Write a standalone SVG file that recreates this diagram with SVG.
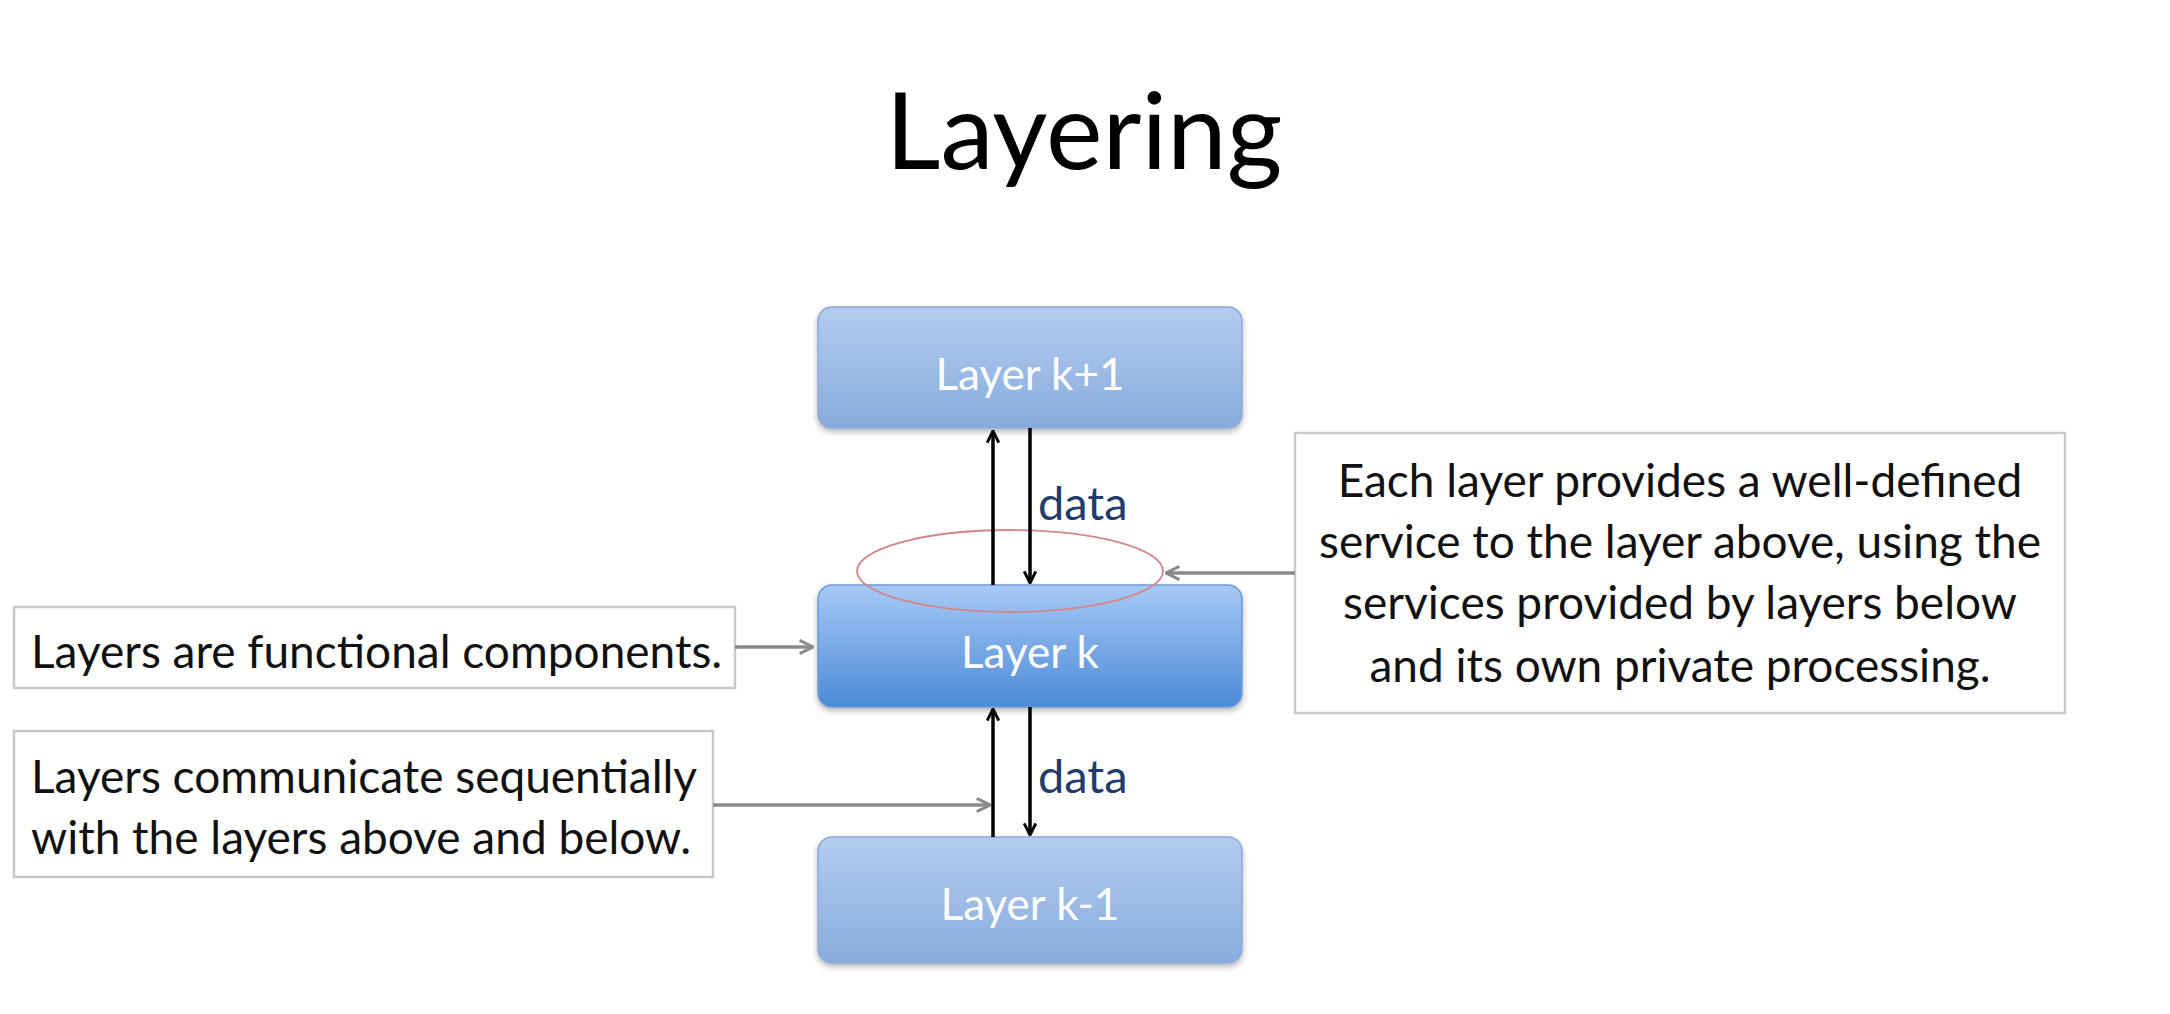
<svg xmlns="http://www.w3.org/2000/svg" width="2170" height="1014" viewBox="0 0 2170 1014">
<style>
  .title{font-family:Lato,"Open Sans","Liberation Sans",sans-serif;font-size:107px;fill:#000;}
  .layer{font-family:Lato,"Open Sans","Liberation Sans",sans-serif;font-size:44px;fill:#fff;text-anchor:middle;}
  .note{font-family:Lato,"Open Sans","Liberation Sans",sans-serif;font-size:46px;fill:#111;}
  .data{font-family:Lato,"Open Sans","Liberation Sans",sans-serif;font-size:47px;fill:#1f3c6c;}
  .box{fill:#fff;stroke:#c9c9c9;stroke-width:2.5;}
  .blk{stroke:#000;stroke-width:3.5;fill:none;}
  .gry{stroke:#8a8a8a;stroke-width:3.5;fill:none;}
</style>
<defs>
  <linearGradient id="gLight" x1="0" y1="0" x2="0" y2="1">
    <stop offset="0" stop-color="#b3ccee"/>
    <stop offset="1" stop-color="#87abde"/>
  </linearGradient>
  <linearGradient id="gDark" x1="0" y1="0" x2="0" y2="1">
    <stop offset="0" stop-color="#a6c9f6"/>
    <stop offset="1" stop-color="#4c8ad6"/>
  </linearGradient>
  <filter id="sh" x="-5%" y="-10%" width="110%" height="130%">
    <feGaussianBlur in="SourceAlpha" stdDeviation="3"/>
    <feOffset dy="3"/>
    <feComponentTransfer><feFuncA type="linear" slope="0.3"/></feComponentTransfer>
    <feMerge><feMergeNode/><feMergeNode in="SourceGraphic"/></feMerge>
  </filter>
  <marker id="ab" viewBox="0 0 12 12" refX="11" refY="6" markerWidth="14" markerHeight="14" markerUnits="userSpaceOnUse" orient="auto">
    <path d="M1,1 L11,6 L1,11" fill="none" stroke="#000" stroke-width="2.5"/>
  </marker>
  <marker id="ag" viewBox="0 0 12 12" refX="11" refY="6" markerWidth="16" markerHeight="16" markerUnits="userSpaceOnUse" orient="auto">
    <path d="M1,1 L11,6 L1,11" fill="none" stroke="#8a8a8a" stroke-width="2.2"/>
  </marker>
</defs>
<rect width="2170" height="1014" fill="#fff"/>
<text id="title" class="title" x="1084" y="169" text-anchor="middle">Layering</text>

<g id="layer-k-plus-1">
  <rect x="818" y="307" width="424" height="121" rx="14" fill="url(#gLight)" stroke="#8eaad6" stroke-width="1.5" filter="url(#sh)"/>
  <text class="layer" x="1030" y="390">Layer k+1</text>
</g>
<g id="layer-k">
  <rect x="818" y="585" width="424" height="122" rx="14" fill="url(#gDark)" stroke="#6f9ad6" stroke-width="1.5" filter="url(#sh)"/>
  <text class="layer" x="1030" y="668">Layer k</text>
</g>
<g id="layer-k-minus-1">
  <rect x="818" y="837" width="424" height="126" rx="14" fill="url(#gLight)" stroke="#8eaad6" stroke-width="1.5" filter="url(#sh)"/>
  <text class="layer" x="1030" y="920">Layer k-1</text>
</g>

<g id="note-functional">
  <rect class="box" x="14" y="607" width="721" height="81"/>
  <text class="note" x="31" y="668">Layers are functional components.</text>
</g>
<g id="note-sequential">
  <rect class="box" x="14" y="731" width="699" height="146"/>
  <text class="note" x="31" y="793">Layers communicate sequentially</text>
  <text class="note" x="31" y="854">with the layers above and below.</text>
</g>
<g id="note-service">
  <rect class="box" x="1295" y="433" width="770" height="280"/>
  <text class="note" x="1680" y="497" text-anchor="middle">Each layer provides a well-defined</text>
  <text class="note" x="1680" y="558" text-anchor="middle">service to the layer above, using the</text>
  <text class="note" x="1680" y="619" text-anchor="middle">services provided by layers below</text>
  <text class="note" x="1680" y="682" text-anchor="middle">and its own private processing.</text>
</g>
<g id="highlight">
  <ellipse cx="1010" cy="571" rx="153" ry="41" fill="none" stroke="#d48585" stroke-width="1.8"/>
</g>

<g id="connectors">
  <line class="blk" x1="993" y1="585" x2="993" y2="431" marker-end="url(#ab)"/>
  <line class="blk" x1="1030" y1="428" x2="1030" y2="583" marker-end="url(#ab)"/>
  <text class="data" x="1038" y="520">data</text>
  <line class="blk" x1="993" y1="837" x2="993" y2="709" marker-end="url(#ab)"/>
  <line class="blk" x1="1030" y1="707" x2="1030" y2="835" marker-end="url(#ab)"/>
  <text class="data" x="1038" y="793">data</text>
  <line class="gry" x1="735" y1="647" x2="813" y2="647" marker-end="url(#ag)"/>
  <line class="gry" x1="713" y1="805" x2="990" y2="805" marker-end="url(#ag)"/>
  <line class="gry" x1="1295" y1="573" x2="1166" y2="573" marker-end="url(#ag)"/>
</g>
</svg>
